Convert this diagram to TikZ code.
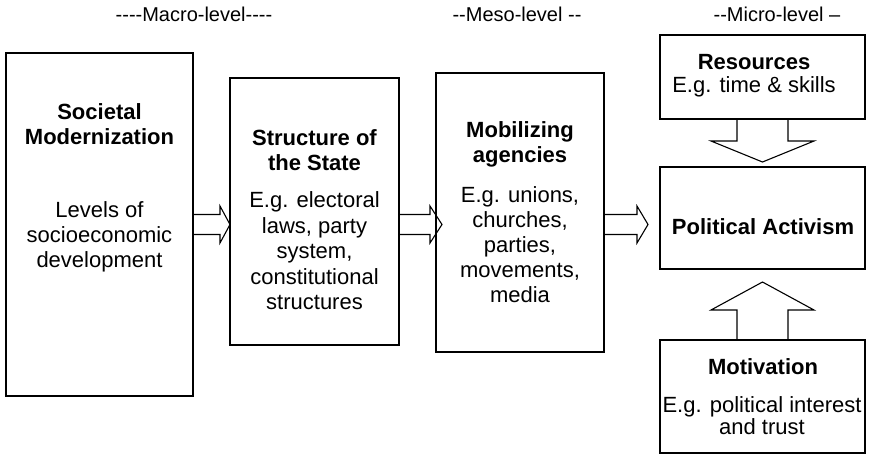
\documentclass[tikz,border=0pt]{standalone}
\usepackage{fontspec}
\setmainfont{Liberation Sans}
\usetikzlibrary{calc}

\begin{document}
\begin{tikzpicture}[x=1pt, y=-1pt,
        box/.style={draw, line width=1.3pt, inner sep=0pt, outer sep=0pt},
        title_node/.style={font=\fontsize{22}{25}\selectfont\bfseries, align=center, inner sep=0pt},
        body_node/.style={font=\fontsize{22}{25}\selectfont, align=center, inner sep=0pt},
        level_node/.style={font=\fontsize{20}{24}\selectfont, inner sep=0pt},
        hollow/.style={draw, line width=1.1pt, line join=miter}
    ]
    \useasboundingbox (0,0) rectangle (873,456);

    % Livelli
    \node[level_node] (macro) at (194,14) {-{}-{}-{}-Macro-level-{}-{}-{}-};
    \node[level_node] (meso) at (517,14) {-{}-Meso-level -{}-};
    \node[level_node] (micro) at (777,14) {-{}-Micro-level –};

    % Riquadri
    \node[box, minimum width=187, minimum height=343] (modern) at (99.5,224.5) {};
    \node[box, minimum width=169, minimum height=267] (state) at (314.5,211.5) {};
    \node[box, minimum width=168, minimum height=279] (agency) at (520,212.5) {};
    \node[box, minimum width=205, minimum height=84] (resources) at (762.5,77) {};
    \node[box, minimum width=205, minimum height=102] (activism) at (762.5,218) {};
    \node[box, minimum width=205, minimum height=113] (motivation) at (762.5,396.5) {};

    % Testi
    \node[title_node] (modern_title) at (99.5,124.5) {Societal\\Modernization};
    \node[body_node] (modern_text) at (99.5,237) {Levels of\\socioeconomic\\development};
    \node[title_node] (state_title) at (314.5,150.5) {Structure of\\the State};
    \node[body_node, font=\fontsize{22}{25.5}\selectfont] (state_text) at (314.5,251) {E.g. electoral\\laws, party\\system,\\constitutional\\structures};
    \node[title_node] (agency_title) at (520,144.5) {Mobilizing\\agencies};
    \node[body_node] (agency_text) at (520,245) {E.g. unions,\\churches,\\parties,\\movements,\\media};
    \node[title_node] (resources_title) at (754,62) {Resources};
    \node[body_node] (resources_text) at (754,87) {E.g. time \& skills};
    \node[title_node] (activism_title) at (763,227) {Political Activism};
    \node[title_node] (motivation_title) at (763,367) {Motivation};
    \node[body_node, font=\fontsize{22}{22}\selectfont] (motivation_text) at (762,416) {E.g. political interest\\and trust};

    % Frecce orizzontali
    \draw[hollow] ($(modern.east)+(0,-10)$) -- ++(27,0) -- ++(0,-8.5)
        -- (state.west |- modern.east) -- ++(-10,18.5) -- ++(0,-8.5)
        -- ($(modern.east)+(0,10)$);
    \draw[hollow] ($(state.east |- modern.east)+(0,-10)$) -- ++(31,0) -- ++(0,-8.5)
        -- ($(agency.west |- modern.east)+(6,0)$) -- ++(-12,18.5) -- ++(0,-8.5)
        -- ($(state.east |- modern.east)+(0,10)$);
    \draw[hollow] ($(agency.east |- modern.east)+(0,-10)$) -- ++(33,0) -- ++(0,-8.5)
        -- ($(activism.west |- modern.east)+(-12,0)$) -- ++(-11,18.5) -- ++(0,-8.5)
        -- ($(agency.east |- modern.east)+(0,10)$);

    % Frecce verticali
    \draw[hollow] ($(resources.south)+(-25.5,0)$) -- ++(0,22) -- ++(-26,0)
        -- ($(activism.north)+(0,-5)$) -- ++(51.5,-21) -- ++(-26,0)
        -- ($(resources.south)+(25.5,0)$);
    \draw[hollow] ($(motivation.north)+(-25.5,0)$) -- ++(0,-30) -- ++(-26,0)
        -- ($(activism.south)+(0,13)$) -- ++(51.5,28) -- ++(-26,0)
        -- ($(motivation.north)+(25.5,0)$);
\end{tikzpicture}
\end{document}
